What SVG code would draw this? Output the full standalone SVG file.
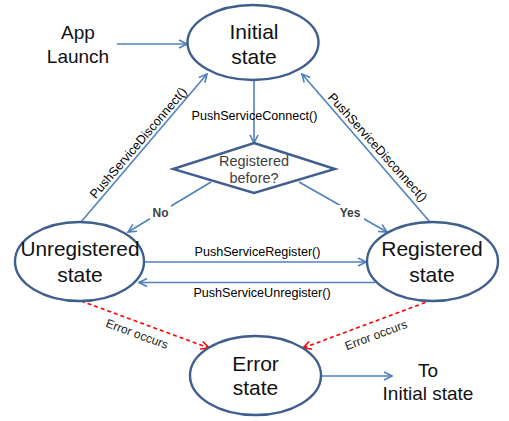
<svg xmlns="http://www.w3.org/2000/svg" width="509" height="421" viewBox="0 0 509 421">
<defs>
<style>
.state{fill:#fff;stroke:#3f5f8e;stroke-width:2.4}
.big{font-family:"Liberation Sans",Arial,sans-serif;font-size:21px;fill:#111;text-anchor:middle}
.mid{font-family:"Liberation Sans",Arial,sans-serif;font-size:19px;fill:#111;text-anchor:middle}
.fn{font-family:"Liberation Sans",Arial,sans-serif;font-size:12.6px;fill:#000;text-anchor:middle}
.q{font-family:"Liberation Sans",Arial,sans-serif;font-size:14.5px;fill:#404040;text-anchor:middle}
.yn{font-family:"Liberation Sans",Arial,sans-serif;font-size:12px;font-weight:bold;fill:#404040;text-anchor:middle}
.err{font-family:"Liberation Sans",Arial,sans-serif;font-size:12px;fill:#222;text-anchor:middle}
.c{fill:none;stroke:#4f81bd;stroke-width:1.6;marker-end:url(#arr)}
.d{fill:none;stroke:#ff0000;stroke-width:1.6;stroke-dasharray:4,3;marker-end:url(#arrR)}
</style>
<marker id="arr" viewBox="0 0 10 10" refX="9" refY="5" markerWidth="10" markerHeight="10" markerUnits="userSpaceOnUse" orient="auto">
<path d="M1,1 L9,5 L1,9" fill="none" stroke="#4f81bd" stroke-width="1.6"/>
</marker>
<marker id="arrR" viewBox="0 0 10 10" refX="9" refY="5" markerWidth="10" markerHeight="10" markerUnits="userSpaceOnUse" orient="auto">
<path d="M1,1 L9,5 L1,9" fill="none" stroke="#ff0000" stroke-width="1.6"/>
</marker>
</defs>
<rect width="509" height="421" fill="#fff"/>

<g id="connectors">
<path class="c" d="M117,44 L187,44"/>
<path class="c" d="M254,80 L254,143"/>
<path class="c" d="M211,182 L128,232"/>
<path class="c" d="M299,182 L387,232"/>
<path class="c" d="M145,262 L366,262"/>
<path class="c" d="M375,282.5 L139,282.5"/>
<path class="c" d="M81,222 L207,74"/>
<path class="c" d="M430,222 L302,74"/>
<path class="d" d="M81,301 L209,348"/>
<path class="d" d="M432,300 L303,348"/>
<path class="c" d="M321,376 L392,376"/>
</g>

<g id="labels">
<text class="fn" x="254.5" y="120">PushServiceConnect()</text>
<text class="fn" x="257.5" y="256">PushServiceRegister()</text>
<text class="fn" x="262" y="297">PushServiceUnregister()</text>
<text class="fn" transform="translate(138.5,143) rotate(-49.4)" x="0" y="4">PushServiceDisconnect()</text>
<text class="fn" transform="translate(377.5,147.5) rotate(48)" x="0" y="4">PushServiceDisconnect()</text>
<rect x="150" y="205" width="21" height="16" fill="#fff"/>
<text class="yn" x="160.5" y="217">No</text>
<rect x="336" y="205" width="28" height="16" fill="#fff"/>
<text class="yn" x="350" y="217">Yes</text>
<text class="err" transform="translate(137,334) rotate(20)" x="0" y="4">Error occurs</text>
<text class="err" transform="translate(376,335) rotate(-20.5)" x="0" y="4">Error occurs</text>
<text class="mid" x="78" y="39">App</text>
<text class="mid" x="78" y="63">Launch</text>
<text class="mid" x="428" y="377">To</text>
<text class="mid" x="428" y="400">Initial state</text>
</g>

<g id="initial">
<ellipse class="state" cx="253" cy="42.5" rx="65.5" ry="37.5"/>
<text class="big" x="254" y="39">Initial</text>
<text class="big" x="254" y="64">state</text>
</g>

<g id="decision">
<polygon points="254,143 335,169 254,193 173,169" fill="#fff" stroke="#3f5f8e" stroke-width="2.4" stroke-linejoin="miter"/>
<text class="q" x="254" y="166">Registered</text>
<text class="q" x="254" y="183">before?</text>
</g>

<g id="unregistered">
<ellipse class="state" cx="79.5" cy="261.5" rx="64.5" ry="39.5"/>
<text class="big" x="80" y="256" textLength="119" lengthAdjust="spacingAndGlyphs">Unregistered</text>
<text class="big" x="80" y="282">state</text>
</g>

<g id="registered">
<ellipse class="state" cx="432.5" cy="261.5" rx="65.5" ry="39.5"/>
<text class="big" x="432" y="256">Registered</text>
<text class="big" x="432" y="282">state</text>
</g>

<g id="error">
<ellipse class="state" cx="255.5" cy="375.5" rx="65.5" ry="39.5"/>
<text class="big" x="255.5" y="371">Error</text>
<text class="big" x="255.5" y="395">state</text>
</g>
</svg>
